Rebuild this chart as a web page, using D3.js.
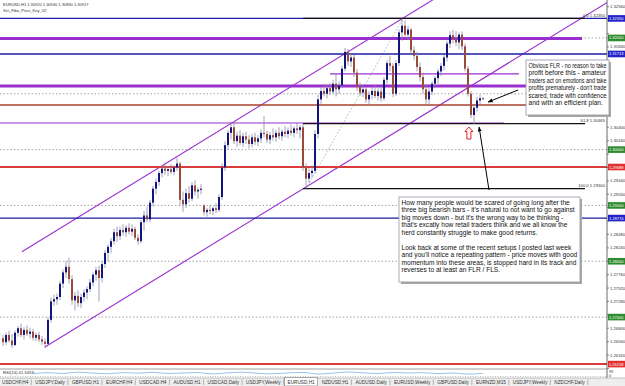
<!DOCTYPE html>
<html>
<head>
<meta charset="utf-8">
<title>EURUSD,H1</title>
<style>
  body { margin:0; background:#fff; }
  svg { display:block; font-family:"Liberation Sans", Arial, sans-serif; }
  .tick { font-size:4.2px; fill:#333; }
  .note { font-size:6.6px; fill:#111; }
  .tab { font-size:4.7px; fill:#333; }
</style>
</head>
<body>
<div id="chart"></div>
<script src="https://d3js.org/d3.v7.min.js"></script>
<script>
// H1 bars: open, high, low, close
var bars = [
  [1.2662,1.2668,1.2648,1.2655],[1.2655,1.2672,1.2650,1.2668],[1.2668,1.2675,1.2654,1.2658],[1.2658,1.2670,1.2645,1.2650],
  [1.2650,1.2676,1.2648,1.2672],[1.2672,1.2684,1.2665,1.2680],[1.2680,1.2688,1.2664,1.2668],[1.2668,1.2682,1.2660,1.2677],
  [1.2677,1.2685,1.2666,1.2670],[1.2670,1.2681,1.2662,1.2674],[1.2674,1.2679,1.2658,1.2663],[1.2663,1.2672,1.2657,1.2668],
  [1.2668,1.2674,1.2655,1.2660],[1.2660,1.2666,1.2650,1.2656],[1.2656,1.2662,1.2644,1.2652],[1.2652,1.2700,1.2650,1.2695],
  [1.2695,1.2735,1.2690,1.2728],[1.2728,1.2740,1.2720,1.2732],[1.2732,1.2742,1.2722,1.2736],[1.2736,1.2765,1.2730,1.2760],
  [1.2760,1.2785,1.2752,1.2780],[1.2780,1.2800,1.2770,1.2790],[1.2790,1.2806,1.2760,1.2768],[1.2768,1.2775,1.2722,1.2730],
  [1.2730,1.2745,1.2712,1.2738],[1.2738,1.2748,1.2718,1.2725],[1.2725,1.2742,1.2716,1.2736],[1.2736,1.2750,1.2728,1.2744],
  [1.2744,1.2755,1.2732,1.2750],[1.2750,1.2768,1.2745,1.2762],[1.2762,1.2780,1.2755,1.2776],[1.2776,1.2790,1.2765,1.2784],
  [1.2784,1.2792,1.2728,1.2770],[1.2770,1.2800,1.2762,1.2795],[1.2795,1.2820,1.2788,1.2815],[1.2815,1.2830,1.2800,1.2826],
  [1.2826,1.2842,1.2815,1.2836],[1.2836,1.2858,1.2830,1.2852],[1.2852,1.2862,1.2835,1.2845],[1.2845,1.2862,1.2838,1.2856],
  [1.2856,1.2866,1.2846,1.2852],[1.2852,1.2865,1.2844,1.2860],[1.2860,1.2868,1.2848,1.2853],[1.2853,1.2866,1.2845,1.2858],
  [1.2858,1.2862,1.2838,1.2842],[1.2842,1.2848,1.2830,1.2836],[1.2836,1.2875,1.2832,1.2870],[1.2870,1.2890,1.2855,1.2882],
  [1.2882,1.2898,1.2870,1.2875],[1.2875,1.2910,1.2870,1.2905],[1.2905,1.2935,1.2898,1.2930],[1.2930,1.2948,1.2920,1.2942],
  [1.2942,1.2962,1.2935,1.2958],[1.2958,1.2972,1.2950,1.2966],[1.2966,1.2975,1.2955,1.2962],[1.2962,1.2970,1.2952,1.2965],
  [1.2965,1.2974,1.2956,1.2960],[1.2960,1.2972,1.2954,1.2968],[1.2968,1.2986,1.2962,1.2975],[1.2975,1.2978,1.2900,1.2910],
  [1.2910,1.2925,1.2888,1.2902],[1.2902,1.2930,1.2895,1.2922],[1.2922,1.2935,1.2905,1.2912],[1.2912,1.2942,1.2908,1.2936],
  [1.2936,1.2945,1.2918,1.2925],[1.2925,1.2932,1.2912,1.2928],[1.2928,1.2938,1.2920,1.2930],[1.2900,1.2902,1.2882,1.2888],
  [1.2888,1.2896,1.2880,1.2892],[1.2892,1.2900,1.2884,1.2890],[1.2890,1.2898,1.2882,1.2895],[1.2895,1.2904,1.2886,1.2892],
  [1.2892,1.2920,1.2888,1.2915],[1.2915,1.2975,1.2910,1.2968],[1.2968,1.3015,1.2962,1.3008],[1.3008,1.3035,1.3000,1.3030],
  [1.3030,1.3050,1.3018,1.3040],[1.3040,1.3048,1.3010,1.3015],[1.3015,1.3032,1.3005,1.3025],[1.3025,1.3035,1.3008,1.3012],
  [1.3012,1.3030,1.3005,1.3024],[1.3024,1.3032,1.3010,1.3018],[1.3018,1.3026,1.3002,1.3010],[1.3010,1.3028,1.3004,1.3022],
  [1.3022,1.3030,1.3008,1.3014],[1.3014,1.3026,1.3006,1.3020],[1.3020,1.3036,1.3012,1.3030],[1.3030,1.3060,1.3022,1.3028],
  [1.3028,1.3034,1.3012,1.3018],[1.3018,1.3032,1.3010,1.3026],[1.3026,1.3038,1.3016,1.3022],[1.3022,1.3035,1.3014,1.3030],
  [1.3030,1.3040,1.3018,1.3024],[1.3024,1.3036,1.3016,1.3032],[1.3032,1.3042,1.3022,1.3028],[1.3028,1.3040,1.3020,1.3034],
  [1.3034,1.3045,1.3025,1.3030],[1.3030,1.3042,1.3022,1.3038],[1.3038,1.3048,1.3028,1.3035],[1.3035,1.3044,1.3020,1.3040],
  [1.3040,1.3046,1.2962,1.2968],[1.2968,1.2975,1.2930,1.2948],[1.2948,1.2966,1.2940,1.2958],[1.2958,1.2972,1.2950,1.2962],
  [1.2962,1.3035,1.2958,1.3028],[1.3028,1.3098,1.3020,1.3090],[1.3090,1.3112,1.3082,1.3105],[1.3105,1.3118,1.3095,1.3100],
  [1.3100,1.3115,1.3092,1.3110],[1.3110,1.3120,1.3098,1.3104],[1.3104,1.3125,1.3100,1.3118],[1.3118,1.3136,1.3095,1.3108],
  [1.3108,1.3122,1.3100,1.3115],[1.3115,1.3150,1.3110,1.3145],[1.3145,1.3182,1.3140,1.3175],[1.3175,1.3180,1.3150,1.3158],
  [1.3158,1.3172,1.3148,1.3165],[1.3165,1.3170,1.3130,1.3138],[1.3138,1.3145,1.3105,1.3112],[1.3112,1.3120,1.3096,1.3102],
  [1.3102,1.3115,1.3094,1.3108],[1.3108,1.3112,1.3084,1.3090],[1.3090,1.3105,1.3080,1.3098],[1.3098,1.3112,1.3090,1.3105],
  [1.3105,1.3115,1.3092,1.3096],[1.3096,1.3110,1.3088,1.3104],[1.3104,1.3114,1.3086,1.3092],[1.3092,1.3130,1.3088,1.3125],
  [1.3125,1.3160,1.3118,1.3155],[1.3155,1.3168,1.3140,1.3150],[1.3150,1.3155,1.3094,1.3100],[1.3100,1.3160,1.3096,1.3155],
  [1.3155,1.3215,1.3150,1.3210],[1.3210,1.3235,1.3195,1.3222],[1.3222,1.3232,1.3200,1.3206],[1.3206,1.3222,1.3196,1.3215],
  [1.3215,1.3218,1.3172,1.3178],[1.3178,1.3185,1.3160,1.3168],[1.3168,1.3175,1.3140,1.3148],[1.3148,1.3156,1.3122,1.3130],
  [1.3130,1.3138,1.3100,1.3108],[1.3108,1.3118,1.3082,1.3090],[1.3090,1.3110,1.3080,1.3104],[1.3104,1.3122,1.3098,1.3118],
  [1.3118,1.3132,1.3110,1.3128],[1.3128,1.3145,1.3118,1.3140],[1.3140,1.3155,1.3132,1.3150],[1.3150,1.3170,1.3142,1.3165],
  [1.3165,1.3195,1.3158,1.3190],[1.3190,1.3212,1.3182,1.3205],[1.3205,1.3215,1.3190,1.3198],[1.3198,1.3212,1.3185,1.3192],
  [1.3192,1.3210,1.3180,1.3206],[1.3206,1.3212,1.3178,1.3185],[1.3185,1.3190,1.3140,1.3145],[1.3145,1.3150,1.3095,1.3100],
  [1.3100,1.3105,1.3056,1.3062],[1.3062,1.3080,1.3046,1.3075],[1.3075,1.3094,1.3068,1.3088],[1.3088,1.3098,1.3078,1.3092],
  [1.30920,1.30940,1.30890,1.30917]
];

var priceTicks = [1.32560,1.32320,1.32080,1.31840,1.31600,1.31360,1.31120,1.30880,1.30640,1.30400,1.30160,1.29920,1.29680,1.29440,
  1.29200,1.28960,1.28720,1.28480,1.28240,1.28000,1.27760,1.27520,1.27280,1.27040,1.26800,1.26560,1.26320,1.26080];

var roundLevels = [1.32, 1.31, 1.30, 1.29, 1.28, 1.27];
var blueLevels = [1.32350, 1.31713, 1.28774];
var redLevels = [1.29688, 1.26158];
var brownLevel = [1.30799, -2, 179];
// purple horizontal lines: price, from bar, to bar
var purpleLevels = [1.31990, 1.31355, 1.31140, 1.30477];
var purpleFrom = [-2, 109, -2, -2];
var purpleTo = [193, 172, 177, 167];

// fibonacci: low anchor, high anchor, levels
var fibLow = [101, 1.29300];
var fibHigh = [133.3, 1.32350];
var fibLevels = [0.0, 61.8, 100.0];

// channel: two points on lower line, one on upper line
var chanA = [14, 1.26465];
var chanB = [101, 1.29330];
var chanTop = [77, 1.30500];
var chanTopStart = 6.3;

var rsiVals = [48,62,50,70,56,46,63,55,67,50,58,64,44,60,69,52,46,59,65,42,56,72,60,49,66,57,63,47,58,40,53];

var tabs = ['USDCHF,H4','USDJPY,Daily','GBPUSD,H1','EURCHF,H4','USDCAD,H4','AUDUSD,H1','USDCAD,Daily','USDJPY,Weekly',
  'EURUSD,H1','NZDUSD,H1','AUDUSD,Daily','EURUSD,Weekly','GBPUSD,Daily','EURNZD,M15','USDJPY,Weekly','NZDCHF,Daily'];
var activeTab = 'EURUSD,H1';

var note1 = ['Obvious FLR - no reason to take','profit before this - amateur','traders act on emotions and take',
  'profits prematurely - don\'t trade','scared, trade with confidence','and with an efficient plan.'];
var note2 = ['How many people would be scared of going long after the',
  'three big bearish bars - it\'s natural to not want to go against',
  'big moves down - but it\'s the wrong way to be thinking -',
  'that\'s excatly how retail traders think and we all know the',
  'herd constantly struggle to make good returns.', '',
  'Look back at some of the recent setups I posted last week',
  'and you\'ll notice a repeating pattern - price moves with good',
  'momentum into these areas, is stopped hard in its track and',
  'reverses to at least an FLR / FLS.'];

// ---- layout
var W = 625, H = 386, axisX = 607, chartBottom = 368;
var fmt = d3.format('.5f');

var svg = d3.select('#chart').append('svg').attr('width', W).attr('height', H);

var x = d3.scaleLinear().domain([0, bars.length - 1]).range([3, 483]);
var y = d3.scaleLinear().domain([1.2607, 1.3268]).range([369, 0]);

svg.append('defs').append('clipPath').attr('id', 'clip')
  .append('rect').attr('x', 0).attr('y', 0).attr('width', axisX).attr('height', chartBottom);
var mk = svg.select('defs').append('marker').attr('id', 'ah')
  .attr('viewBox', '0 0 10 10').attr('refX', 9).attr('refY', 5)
  .attr('markerWidth', 5).attr('markerHeight', 5).attr('orient', 'auto');
mk.append('path').attr('d', 'M0,1 L10,5 L0,9 Z').attr('fill', '#000');

var g = svg.append('g').attr('clip-path', 'url(#clip)');

// round number dotted levels
g.selectAll('.round').data(roundLevels).enter().append('line')
  .attr('x1', 0).attr('x2', axisX).attr('y1', d => y(d)).attr('y2', d => y(d))
  .attr('stroke', '#8a8a8a').attr('stroke-width', 0.8).attr('stroke-dasharray', '1.5,2');

// channel
var slope = (chanB[1] - chanA[1]) / (chanB[0] - chanA[0]);
var lowerAt = b => chanA[1] + slope * (b - chanA[0]);
var upOff = chanTop[1] - lowerAt(chanTop[0]);
g.append('line').attr('x1', x(chanA[0])).attr('y1', y(chanA[1]))
  .attr('x2', x(240)).attr('y2', y(lowerAt(240)))
  .attr('stroke', '#9a2fd0').attr('stroke-width', 1.1);
g.append('line').attr('x1', x(chanTopStart)).attr('y1', y(lowerAt(chanTopStart) + upOff))
  .attr('x2', x(240)).attr('y2', y(lowerAt(240) + upOff))
  .attr('stroke', '#9a2fd0').attr('stroke-width', 1.1);

// fib base line
g.append('line').attr('x1', x(fibLow[0])).attr('y1', y(fibLow[1]))
  .attr('x2', x(fibHigh[0])).attr('y2', y(fibHigh[1]))
  .attr('stroke', '#9cc79c').attr('stroke-width', 0.8).attr('stroke-dasharray', '2,1.5');

// horizontal lines
g.selectAll('.blue').data(blueLevels).enter().append('line')
  .attr('x1', 0).attr('x2', axisX).attr('y1', d => y(d)).attr('y2', d => y(d))
  .attr('stroke', '#1c1ca8').attr('stroke-width', 1.3);
g.selectAll('.red').data(redLevels).enter().append('line')
  .attr('x1', 0).attr('x2', axisX).attr('y1', d => y(d)).attr('y2', d => y(d))
  .attr('stroke', '#d93a3a').attr('stroke-width', 2);
g.append('line').attr('x1', x(brownLevel[1])).attr('x2', x(brownLevel[2]))
  .attr('y1', y(brownLevel[0])).attr('y2', y(brownLevel[0]))
  .attr('stroke', '#a8402c').attr('stroke-width', 1.5);
g.selectAll('.purple').data(purpleLevels).enter().append('line')
  .attr('x1', (d, i) => x(purpleFrom[i])).attr('x2', (d, i) => x(purpleTo[i]))
  .attr('y1', d => y(d)).attr('y2', d => y(d))
  .attr('stroke', '#9a2fd0').attr('stroke-width', (d, i) => (i == 0 || i == 2) ? 3 : 1.2);

// fib levels
var fibPrice = l => fibHigh[1] - (fibHigh[1] - fibLow[1]) * l / 100;
g.selectAll('.fib').data(fibLevels).enter().append('line')
  .attr('x1', x(fibLow[0] - 1)).attr('x2', 585)
  .attr('y1', d => y(fibPrice(d))).attr('y2', d => y(fibPrice(d)))
  .attr('stroke', '#111').attr('stroke-width', 1.2);
g.selectAll('.fibt').data(fibLevels).enter().append('text')
  .attr('class', 'tick').attr('x', 605).attr('y', d => y(fibPrice(d)) - 1.5)
  .attr('text-anchor', 'end').style('font-size', '4.2px')
  .text(d => d3.format('.1f')(d) + '  ' + fmt(fibPrice(d)));

// candles
var c = g.selectAll('.bar').data(bars).enter().append('g');
c.append('line').attr('x1', (d, i) => x(i)).attr('x2', (d, i) => x(i))
  .attr('y1', d => y(d[1])).attr('y2', d => y(d[2]))
  .attr('stroke', '#8c8ca8').attr('stroke-width', 0.8);
c.append('rect')
  .attr('x', (d, i) => x(i) - 1).attr('width', 2)
  .attr('y', d => y(Math.max(d[0], d[3])))
  .attr('height', d => Math.max(1, Math.abs(y(d[0]) - y(d[3]))))
  .attr('fill', d => d[3] >= d[0] ? '#14147e' : '#9a4a38');

// axis (ticks under the note box and the price boxes are hidden, as in the terminal)
var boxLevels = roundLevels.filter(d => d != 1.31).concat(blueLevels, redLevels);
var freeTicks = priceTicks.filter(t => boxLevels.every(b => Math.abs(y(t) - y(b)) > 6.5) && (y(t) < 58 || y(t) > 119));
svg.append('line').attr('x1', axisX).attr('x2', axisX).attr('y1', 0).attr('y2', 378)
  .attr('stroke', '#444').attr('stroke-width', 0.8);
svg.selectAll('.pt').data(freeTicks).enter().append('text')
  .attr('class', 'tick').attr('x', 610).attr('y', d => y(d) + 1.5).text(d => fmt(d));
svg.selectAll('.ptk').data(priceTicks).enter().append('line')
  .attr('x1', axisX).attr('x2', axisX + 2).attr('y1', d => y(d)).attr('y2', d => y(d))
  .attr('stroke', '#444').attr('stroke-width', 0.6);

// price boxes on the axis
function priceBox(p, col) {
  svg.append('rect').attr('x', axisX + 1).attr('y', y(p) - 3.3).attr('width', 17).attr('height', 6.6).attr('fill', col);
  svg.append('text').attr('class', 'tick').attr('x', axisX + 2).attr('y', y(p) + 1.5)
    .style('fill', '#fff').style('font-size', '4px').text(fmt(p));
}
roundLevels.filter(d => d != 1.31).forEach(d => priceBox(d, '#2e8b2e'));
blueLevels.forEach(d => priceBox(d, '#2222c8'));
redLevels.forEach(d => priceBox(d, '#e03030'));

// header
var last = bars[bars.length - 1];
svg.append('text').attr('class', 'tick').attr('x', 3).attr('y', 6).style('font-size', '4px')
  .text('EURUSD,H1  ' + last.map(fmt).join(' '));
svg.append('text').attr('class', 'tick').attr('x', 3).attr('y', 11.5).style('font-size', '4px').text('Set_Fibo_Price_Key_V2');

// annotations: arrows
svg.append('line').attr('x1', x(171.7)).attr('y1', y(1.31068)).attr('x2', x(161.7)).attr('y2', y(1.30853))
  .attr('stroke', '#000').attr('stroke-width', 1).attr('marker-end', 'url(#ah)');
svg.append('line').attr('x1', x(162)).attr('y1', y(1.29276)).attr('x2', x(158.7)).attr('y2', y(1.30405))
  .attr('stroke', '#000').attr('stroke-width', 1).attr('marker-end', 'url(#ah)');
svg.append('path').attr('transform', 'translate(' + x(155.3) + ',' + y(1.30297) + ')')
  .attr('d', 'M0,-6 L4,-1.5 L2,-1.5 L2,6 L-2,6 L-2,-1.5 L-4,-1.5 Z')
  .attr('fill', '#fff').attr('stroke', '#e02020').attr('stroke-width', 1);

// text boxes: lines wider than the box get squeezed to fit
function noteBox(bx, by, bw, bh, lines) {
  svg.append('rect').attr('x', bx + 2).attr('y', by + 2).attr('width', bw).attr('height', bh).attr('fill', '#a8a8a8');
  svg.append('rect').attr('x', bx).attr('y', by).attr('width', bw).attr('height', bh)
    .attr('fill', '#fff').attr('stroke', '#8c9aa6').attr('stroke-width', 0.8);
  var maxW = bw - 5;
  svg.selectAll(null).data(lines).enter().append('text').attr('class', 'note')
    .attr('x', bx + 2.5).attr('y', (d, i) => by + 7.5 + i * 7.5).text(d => d)
    .each(function() {
      if (this.getComputedTextLength() > maxW)
        d3.select(this).attr('textLength', maxW).attr('lengthAdjust', 'spacingAndGlyphs');
    });
}
noteBox(526, 60, 83, 55, note1);
noteBox(399, 197, 181, 85, note2);

// indicator window
svg.append('line').attr('x1', 0).attr('x2', axisX).attr('y1', 369).attr('y2', 369).attr('stroke', '#888').attr('stroke-width', 0.8);
var ry = d3.scaleLinear().domain([0, 100]).range([377, 370]);
svg.append('path').datum(rsiVals)
  .attr('d', d3.line().x((d, i) => x(10 + i * 5)).y(d => ry(d)).curve(d3.curveMonotoneX))
  .attr('fill', 'none').attr('stroke', '#6fa8dc').attr('stroke-width', 0.7);
svg.append('line').attr('x1', 0).attr('x2', axisX).attr('y1', 376.5).attr('y2', 376.5)
  .attr('stroke', '#999').attr('stroke-width', 0.6).attr('stroke-dasharray', '1,1.5');
svg.append('text').attr('class', 'tick').attr('x', 3).attr('y', 374).text('RSI(14) 41.5459');
svg.append('text').attr('class', 'tick').attr('x', 609).attr('y', 373).style('font-size', '3.8px').text('99');
svg.append('text').attr('class', 'tick').attr('x', 609).attr('y', 377).style('font-size', '3.8px').text('0');

// tab bar
svg.append('rect').attr('x', 0).attr('y', 378).attr('width', W).attr('height', 8).attr('fill', '#eeeeee');
svg.append('line').attr('x1', 0).attr('x2', W).attr('y1', 378).attr('y2', 378).attr('stroke', '#999').attr('stroke-width', 0.6);
var tx = 2;
tabs.forEach(function(t) {
  var txt = svg.append('text').attr('class', 'tab').attr('x', tx).attr('y', 384).text(t);
  var w = txt.node().getComputedTextLength();
  if (t == activeTab) {
    svg.insert('rect', 'text.tab:last-child').attr('x', tx - 3).attr('y', 377.5).attr('width', w + 6).attr('height', 8.5)
      .attr('fill', '#fff').attr('stroke', '#777').attr('stroke-width', 0.6);
    txt.raise();
  } else {
    svg.append('line').attr('x1', tx + w + 3).attr('x2', tx + w + 3).attr('y1', 379.5).attr('y2', 385)
      .attr('stroke', '#888').attr('stroke-width', 0.6);
  }
  tx += w + 7;
});
</script>
</body>
</html>
